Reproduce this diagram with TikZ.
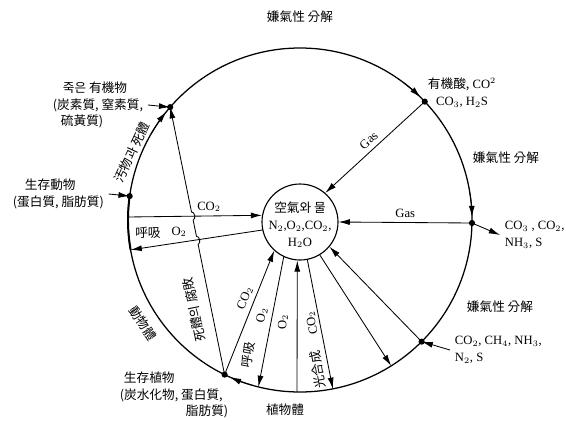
\documentclass[tikz,border=0pt]{standalone}
\usepackage{fontspec}
\setmainfont{Liberation Serif}
\newfontfamily\kr{Noto Sans CJK KR}
\usetikzlibrary{arrows.meta,calc}

\begin{document}
\begin{tikzpicture}[font=\fontsize{9}{12}\selectfont,
    arr/.style={-{Latex[length=2.8mm,width=1.5mm]}, line width=0.6pt},
    krtext/.style={font=\fontsize{9}{12}\selectfont\kr}]
    \def\R{4.3}
    \useasboundingbox (-7.5,-5.0) rectangle (6.65,5.5);
    % 外圆与中心圆
    \draw[line width=0.9pt] (0,0) circle (\R);
    \draw[line width=1.4pt] (172:\R) arc (172:190:\R);
    \node[circle, draw, line width=0.8pt, minimum size=1.9cm] (air) at (0,-0.05) {};
    \node[align=center] (airtxt) at (0,-0.125) {{\kr 空氣와 물}\\N$_2$,O$_2$,CO$_2$,\\H$_2$O};
    % 圆上各点
    \foreach \n/\a in {A/139, B/43.5, C/-1, D/-45, E/-116, F/172} {
        \coordinate (\n) at (\a:\R);
    }
    \foreach \n/\a in {L1/179, L2/190, P2/-104, P3/-91, P4/-79, P5/-58} {
        \coordinate (\n) at (\a:\R);
    }
    % 圆弧上的箭头
    \draw[arr] (150:\R) arc (150:141:\R);
    \draw[arr] (53:\R) arc (53:45.5:\R);
    \draw[arr] (9:\R) arc (9:1:\R);
    \draw[arr] (-106:\R) arc (-106:-114:\R);
    % 与中心圆的连接
    \draw[arr] (B) -- (air.49) node[midway, above, sloped] {Gas};
    \draw[arr] (C) -- (air.east) node[midway, above] {Gas};
    \draw[arr] (D) -- (air.320);
    \draw[arr] (air.301) -- (P5);
    \draw[arr] (air.281) -- (P4);
    \draw[arr] (P3) -- (air.266);
    \draw[arr] (air.245) -- (P2);
    \draw[arr] (E) -- (air.228);
    \draw[arr] (L1) -- (air.170);
    \draw[arr] (air.192) -- (L2);
    % 死体腐败(跨线)
    \draw[arr] (E) -- ($(A)!0.513!(E)$) to[bend right=90] ($(A)!0.483!(E)$)
        -- ($(A)!0.422!(E)$) to[bend right=90] ($(A)!0.392!(E)$) -- (A);
    \foreach \n in {A,B,C,D,E,F} \fill (\n) circle (2.2pt);
    % 外部标签
    \node[krtext] (top) at (0,5.075) {嫌氣性 分解};
    \node[align=center] (acid) at (4.05,3.175) {{\kr 有機酸,} CO$^2$\\CO$_3$, H$_2$S};
    \node[krtext] (anaer1) at (5.15,1.55) {嫌氣性 分解};
    \node[align=left, anchor=west] (gas1) at (5.0,-0.375) {CO$_3$ , CO$_2$,\\NH$_3$, S};
    \node[krtext] (anaer2) at (5.0,-2.175) {嫌氣性 分解};
    \node[align=left, anchor=west] (gas2) at (3.75,-3.25) {CO$_2$, CH$_4$, NH$_3$,\\N$_2$, S};
    \node[krtext, align=left, anchor=west] (deadorg) at (-6.3,2.875)
        {\hspace*{0.25cm}죽은 有機物\\(炭素質, 窒素質,\\\hspace*{0.2cm}硫黃質)};
    \node[krtext, align=left, anchor=west] (animal) at (-7.3,0.65)
        {\hspace*{0.3cm}生存動物\\(蛋白質, 脂肪質)};
    \node[krtext, align=left, anchor=west] (plant) at (-4.625,-4.375)
        {\hspace*{0.1cm}生存植物\\(炭水化物, 蛋白質,\\\hspace*{1.65cm}脂肪質)};
    \node[krtext] (plantbody) at (-0.375,-4.75) {植物體};
    \draw[arr] (deadorg.east) -- (A);
    \draw[arr] (animal.east) -- (F);
    \draw[arr] (C) -- (gas1.west);
    \draw[arr] (gas2.west) -- (D);
    % 线上的标签
    \node[krtext, rotate=65] (waste) at (158:4.53) {汚物과 死體};
    \node[krtext, rotate=-56] (animbody) at (-146.7:4.7) {動物體};
    \node[krtext, rotate=101.5] (decay) at (-2.65,-2.25) {死體의 腐敗};
    \node (co2a) at (-2.275,0.325) {CO$_2$};
    \node[krtext] (resp1) at (-3.8,-0.325) {呼吸};
    \node (o2a) at (-3.025,-0.3) {O$_2$};
    \node[rotate=68] (co2b) at (-1.375,-1.95) {CO$_2$};
    \node[rotate=79] (o2b) at (-0.95,-2.375) {O$_2$};
    \node[krtext, rotate=79] (resp2) at (-1.3,-3.375) {呼吸};
    \node[rotate=90] (o2c) at (-0.425,-2.55) {O$_2$};
    \node[rotate=102] (co2c) at (0.3,-2.575) {CO$_2$};
    \node[krtext, rotate=100] (photo) at (0.45,-3.75) {光合成};
\end{tikzpicture}
\end{document}
